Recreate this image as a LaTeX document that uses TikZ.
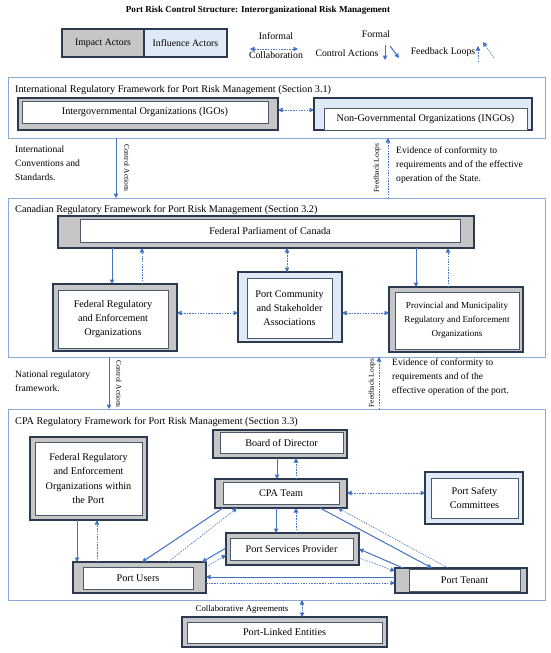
\documentclass[tikz,border=0pt]{standalone}
\usepackage{fontspec}
\setmainfont{Liberation Serif}
\usetikzlibrary{fit,arrows.meta}
\definecolor{ablue}{HTML}{4472C4}
\definecolor{sblue}{HTML}{8AA8DA}
\definecolor{navy}{HTML}{2B3A50}
\definecolor{gfill}{HTML}{C6C6C6}
\definecolor{bfill}{HTML}{DEEAF6}
\newcommand{\fsbox}{\fontsize{10.2}{14.3}\selectfont}
\newcommand{\fsnote}{\fontsize{9.6}{14}\selectfont}
\newcommand{\fsleg}{\fontsize{9.8}{12}\selectfont}
\newcommand{\fsrot}{\fontsize{7.4}{8}\selectfont}
\tikzset{
  outerg/.style={draw=navy, line width=1.2pt, fill=gfill, inner sep=0pt, outer sep=0pt},
  outerb/.style={draw=navy, line width=1.2pt, fill=bfill, inner sep=0pt, outer sep=0pt},
  innerw/.style={draw=navy!85, line width=0.6pt, fill=white, inner sep=0pt, outer sep=0pt},
  txt/.style={align=center, font=\fsbox, inner sep=0pt},
  section/.style={draw=sblue, line width=0.9pt, inner sep=0pt, outer sep=0pt},
  sectitle/.style={anchor=west, font=\fsbox, inner sep=0pt},
  note/.style={anchor=north west, align=left, font=\fsnote, inner sep=0pt},
  rotlab/.style={font=\fsrot, inner sep=0pt},
  ctrl/.style={draw=ablue, line width=1pt, -{Triangle[width=4.5pt,length=4.5pt]}},
  fb/.style={draw=ablue, line width=0.6pt, dash pattern=on 1.5pt off 1.2pt, -{Triangle[width=4.5pt,length=4.5pt]}},
  collab/.style={draw=ablue, line width=0.6pt, dash pattern=on 1.5pt off 1.2pt, {Triangle[width=4.5pt,length=4.5pt]}-{Triangle[width=4.5pt,length=4.5pt]}},
}
\begin{document}
\begin{tikzpicture}[x=1pt,y=-1pt]
\useasboundingbox (0,0) rectangle (550,653);
% title and legend
\node[font=\bfseries\fontsize{9.1}{11}\selectfont] (title) at (258,10) {Port Risk Control Structure: Interorganizational Risk Management};
\node[outerg, fit={(62,29)(144,57)}] (limpact) {};
\node[txt, font=\fsleg] (limpactT) at (limpact.center) {Impact Actors};
\node[outerb, fit={(144,29)(227,57)}] (linfl) {};
\node[txt, font=\fsleg] (linflT) at (linfl.center) {Influence Actors};
\node[font=\fsleg, inner sep=0pt] (linf) at (276,36) {Informal};
\node[font=\fsleg, inner sep=0pt] (lcol) at (276,55) {Collaboration};
\coordinate (lca) at (250,49); \coordinate (lcb) at (298,49);
\draw[collab] (lca) -- (lcb);
\node[font=\fsleg, inner sep=0pt] (lfor) at (376,34) {Formal};
\node[font=\fsleg, inner sep=0pt] (lctl) at (347,53) {Control Actions};
\coordinate (lda) at (385,45); \coordinate (ldb) at (385,60);
\draw[ctrl] (lda) -- (ldb);
\coordinate (lea) at (390,46); \coordinate (leb) at (399,58);
\draw[ctrl] (lea) -- (leb);
\node[font=\fsleg, inner sep=0pt] (lfb) at (443,52) {Feedback Loops};
\coordinate (lfa) at (478,62); \coordinate (lfb2) at (478,46);
\draw[fb] (lfa) -- (lfb2);
\coordinate (lga) at (494,58); \coordinate (lgb) at (483,42);
\draw[fb] (lga) -- (lgb);

% Section 1
\node[section, fit={(8,77)(545,138)}] (sec1) {};
\node[sectitle] (t1) at (15,90) {International Regulatory Framework for Port Risk Management (Section 3.1)};
\node[outerg, fit={(18,98)(278,130)}] (igoO) {};
\node[innerw, fit={(22,101)(268,123)}] (igo) {};
\node[txt] (igoT) at (igo.center) {Intergovernmental Organizations (IGOs)};
\node[outerb, fit={(314,98)(532,130)}] (ingoO) {};
\node[innerw, fit={(324,108)(527,130)}] (ingo) {};
\node[txt] (ingoT) at (ingo.center) {Non-Governmental Organizations (INGOs)};
\draw[collab] (igoO.east |- 0,110) -- (ingoO.west |- 0,110);

% Section 2
\node[section, fit={(8,198)(545,357)}] (sec2) {};
\node[sectitle] (t2) at (15,210) {Canadian Regulatory Framework for Port Risk Management (Section 3.2)};
\node[outerg, fit={(58,216)(474,248)}] (parlO) {};
\node[innerw, fit={(80,219)(460,242)}] (parl) {};
\node[txt] (parlT) at (parl.center) {Federal Parliament of Canada};
\node[outerg, fit={(53,284)(177,351)}] (fedO) {};
\node[innerw, fit={(58,290)(168,348)}] (fed) {};
\node[txt] (fedT) at (fed.center) {Federal Regulatory\\and Enforcement\\Organizations};
\node[outerb, fit={(238,272)(342,342)}] (pcO) {};
\node[innerw, fit={(247,278)(332,338)}] (pc) {};
\node[txt] (pcT) at (pc.center) {Port Community\\and Stakeholder\\Associations};
\node[outerg, fit={(389,287)(523,352)}] (provO) {};
\node[innerw, fit={(395,292)(519,349)}] (prov) {};
\node[txt, font=\fontsize{9.1}{14.3}\selectfont] (provT) at (prov.center) {Provincial and Municipality\\Regulatory and Enforcement\\Organizations};

% between 1 and 2
\draw[ctrl] (sec1.south -| 116,0) -- (sec2.north -| 116,0);
\node[rotlab, rotate=-90] (ca1) at (127,168) {Control Actions};
\node[note] (n1) at (15,146) {International\\Conventions and\\Standards.};
\draw[fb] (sec2.north -| 388,0) -- (sec1.south -| 388,0);
\node[rotlab, rotate=90] (fl1) at (377,168) {Feedback Loops};
\node[note] (n2) at (396,147) {Evidence of conformity to\\requirements and of the effective\\operation of the State.};

% section 2 arrows
\draw[ctrl] (parlO.south -| 112,0) -- (fedO.north -| 112,0);
\draw[fb] (fedO.north -| 142,0) -- (parlO.south -| 142,0);
\draw[collab] (parlO.south -| 287,0) -- (pcO.north -| 287,0);
\draw[ctrl] (parlO.south -| 416,0) -- (provO.north -| 416,0);
\draw[fb] (provO.north -| 448,0) -- (parlO.south -| 448,0);
\draw[collab] (fedO.east |- 0,313) -- (pcO.west |- 0,313);
\draw[collab] (pcO.east |- 0,313) -- (provO.west |- 0,313);

% Section 3
\node[section, fit={(8,409)(545,600)}] (sec3) {};
\node[sectitle] (t3) at (15,422) {CPA Regulatory Framework for Port Risk Management (Section 3.3)};
\node[outerg, fit={(30,437)(147,520)}] (fpO) {};
\node[innerw, fit={(35,442)(142,515)}] (fp) {};
\node[txt] (fpT) at (fp.center) {Federal Regulatory\\and Enforcement\\Organizations within\\the Port};
\node[outerg, fit={(213,430)(347,458)}] (bdO) {};
\node[innerw, fit={(220,432)(343,453)}] (bd) {};
\node[txt] (bdT) at (bd.center) {Board of Director};
\node[outerg, fit={(215,479)(347,508)}] (cpaO) {};
\node[innerw, fit={(223,482)(339,504)}] (cpa) {};
\node[txt] (cpaT) at (cpa.center) {CPA Team};
\node[outerb, fit={(425,472)(523,524)}] (psO) {};
\node[innerw, fit={(431,478)(518,518)}] (ps) {};
\node[txt] (psT) at (ps.center) {Port Safety\\Committees};
\node[outerg, fit={(226,533)(359,565)}] (pspO) {};
\node[innerw, fit={(230,538)(353,560)}] (psp) {};
\node[txt] (pspT) at (psp.center) {Port Services Provider};
\node[outerg, fit={(73,562)(206,593)}] (usO) {};
\node[innerw, fit={(83,567)(193,589)}] (us) {};
\node[txt] (usT) at (us.center) {Port Users};
\node[outerg, fit={(395,568)(527,593)}] (tnO) {};
\node[innerw, fit={(409,569)(520,591)}] (tn) {};
\node[txt] (tnT) at (tn.center) {Port Tenant};
\node[outerg, fit={(182,617)(387,647)}] (plO) {};
\node[innerw, fit={(187,622)(382,643)}] (pl) {};
\node[txt] (plT) at (pl.center) {Port-Linked Entities};

% between 2 and 3
\draw[ctrl] (sec2.south -| 109,0) -- (sec3.north -| 109,0);
\node[rotlab, rotate=-90] (ca2) at (119,384) {Control Actions};
\node[note] (n3) at (15,371) {National regulatory\\framework.};
\draw[fb] (sec3.north -| 379,0) -- (sec2.south -| 379,0);
\node[rotlab, rotate=90] (fl2) at (372,383) {Feedback Loops};
\node[note] (n4) at (392,359) {Evidence of conformity to\\requirements and of the\\effective operation of the port.};

% section 3 arrows
\draw[ctrl] (fpO.south -| 77,0) -- (usO.north -| 77,0);
\draw[fb] (usO.north -| 97,0) -- (fpO.south -| 97,0);
\draw[ctrl] (bdO.south -| 277,0) -- (cpaO.north -| 277,0);
\draw[fb] (cpaO.north -| 296,0) -- (bdO.south -| 296,0);
\draw[ctrl] (cpaO.south -| 276,0) -- (pspO.north -| 276,0);
\draw[fb] (pspO.north -| 296,0) -- (cpaO.south -| 296,0);
\draw[collab] (cpaO.east |- 0,493) -- (psO.west |- 0,493);
\draw[ctrl] (cpaO.south -| 223,0) -- (usO.north -| 142,0);
\draw[fb] (usO.north -| 168,0) -- (cpaO.south -| 237,0);
\draw[ctrl] (cpaO.south -| 320,0) -- (tnO.north -| 432,0);
\draw[fb] (tnO.north -| 448,0) -- (cpaO.south -| 338,0);
\draw[ctrl] (pspO.west |- 0,548) -- (usO.north -| 202,0);
\draw[fb] (usO.east |- 0,567) -- (pspO.west |- 0,555);
\draw[ctrl] (tnO.north -| 403,0) -- (pspO.east |- 0,549);
\draw[fb] (pspO.east |- 0,558) -- (tnO.west |- 0,571);
\draw[ctrl] (tnO.west |- 0,577) -- (usO.east |- 0,577);
\draw[fb] (usO.east |- 0,583) -- (tnO.west |- 0,583);
\draw[collab] (sec3.south -| 302,0) -- (plO.north -| 302,0);
\node[font=\fontsize{8.8}{10}\selectfont, inner sep=0pt] (cag) at (242,609) {Collaborative Agreements};
\end{tikzpicture}
\end{document}
